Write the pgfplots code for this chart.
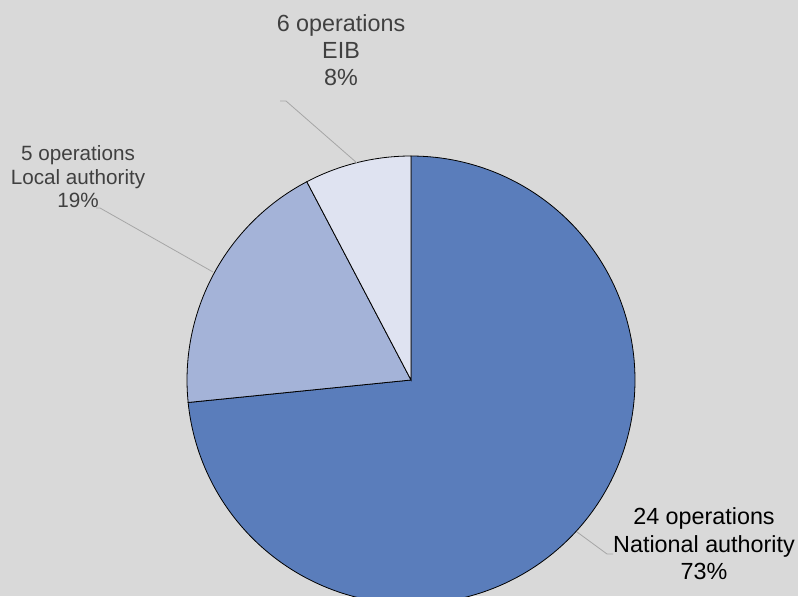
\documentclass[border=0pt]{standalone}
\usepackage{pgfplots}
\usepackage{pgfplotstable}
\pgfplotsset{compat=1.18}
\usepackage{fontspec}
\setmainfont{Liberation Sans}
\definecolor{bg}{HTML}{D9D9D9}
\definecolor{natc}{HTML}{5A7DBB}
\definecolor{locc}{HTML}{A4B3D8}
\definecolor{eibc}{HTML}{DFE3F1}
\definecolor{lead}{HTML}{A6A6A6}
\definecolor{lab}{HTML}{404040}

\pgfplotstableread{
name share
National 73.4
Local 18.9
EIB 7.7
}\piedata
\pgfplotstablegetelem{0}{share}\of\piedata \let\sNat\pgfplotsretval
\pgfplotstablegetelem{1}{share}\of\piedata \let\sLoc\pgfplotsretval
\pgfplotstablegetelem{2}{share}\of\piedata \let\sEIB\pgfplotsretval
\pgfmathsetmacro\aA{90}
\pgfmathsetmacro\aB{90-3.6*\sNat}
\pgfmathsetmacro\aC{\aB-3.6*\sLoc}
\pgfmathsetmacro\aD{\aC-3.6*\sEIB}

\begin{document}
\begin{tikzpicture}
\begin{axis}[hide axis, scale only axis, width=598.5pt, height=447pt,
  xmin=0, xmax=798, ymin=0, ymax=596, clip=true]
\fill[bg] (axis cs:0,0) rectangle (axis cs:798,596);
\addplot[fill=natc, draw=black, line width=0.6pt, domain=\aB:\aA, samples=200, variable=\t]
  ({411+224*cos(t)},{216+224*sin(t)}) -- (axis cs:411,216) -- cycle;
\addplot[fill=locc, draw=black, line width=0.6pt, domain=\aC:\aB, samples=60, variable=\t]
  ({411+224*cos(t)},{216+224*sin(t)}) -- (axis cs:411,216) -- cycle;
\addplot[fill=eibc, draw=black, line width=0.6pt, domain=\aD:\aC, samples=30, variable=\t]
  ({411+224*cos(t)},{216+224*sin(t)}) -- (axis cs:411,216) -- cycle;
% leader lines
\addplot[lead, line width=0.6pt] coordinates {(280,495) (286,495) (357,433)};
\addplot[lead, line width=0.6pt] coordinates {(96,388) (100,388) (213,324)};
\addplot[lead, line width=0.6pt] coordinates {(577,64) (607,42) (613,42)};
% labels
\begin{scope}[every node/.style={anchor=base, inner sep=0pt, font=\fontsize{17.5}{20}\selectfont}]
\node[text=lab] at (axis cs:341,564) {6 operations};
\node[text=lab] at (axis cs:341,537) {EIB};
\node[text=lab] at (axis cs:341,510) {8\%};
\node[text=lab, font=\fontsize{15.5}{19}\selectfont] at (axis cs:78,435) {5 operations};
\node[text=lab, font=\fontsize{15.5}{19}\selectfont] at (axis cs:78,411) {Local authority};
\node[text=lab, font=\fontsize{15.5}{19}\selectfont] at (axis cs:78,388) {19\%};
\node[text=black] at (axis cs:704,72) {24 operations};
\node[text=black] at (axis cs:704,44) {National authority};
\node[text=black] at (axis cs:704,17) {73\%};
\end{scope}
\end{axis}
\end{tikzpicture}
\end{document}
